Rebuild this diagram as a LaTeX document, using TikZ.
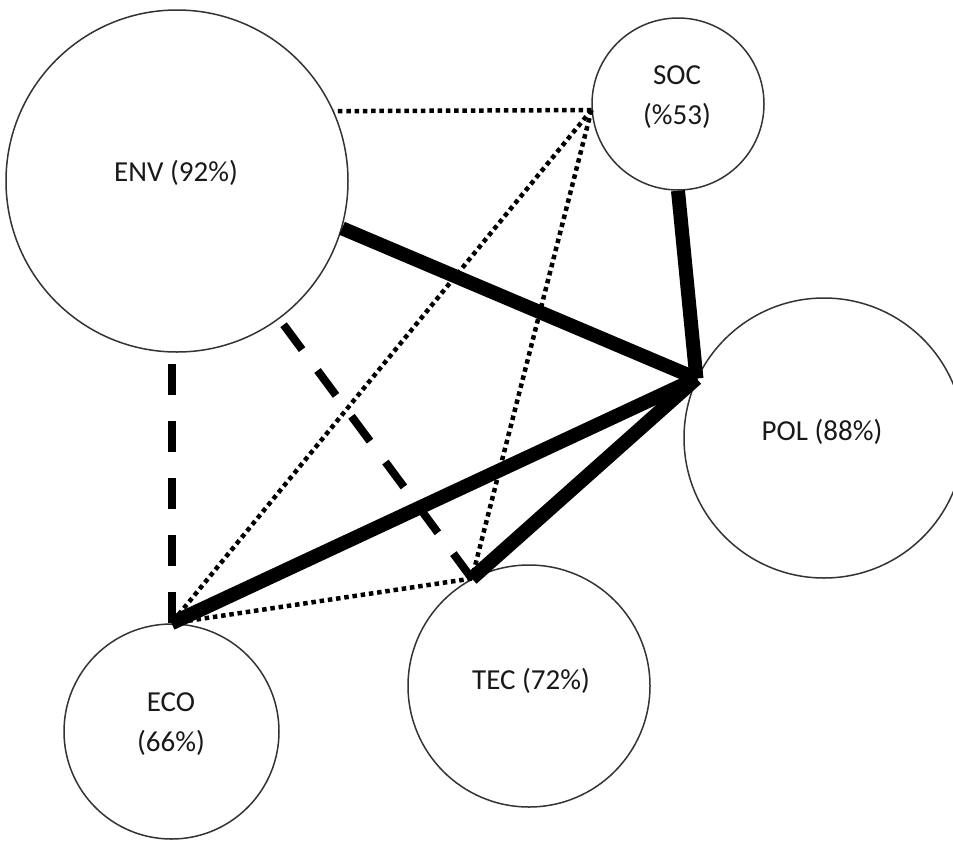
\documentclass[tikz,border=0pt]{standalone}
\usepackage{fontspec}
\setmainfont{Carlito}
\begin{document}
\begin{tikzpicture}[x=1pt,y=-1pt,
  topic/.style={circle,draw=black!80,line width=1.5pt,inner sep=0pt},
  lbl/.style={font=\fontsize{29}{39.5}\selectfont,text=black!90,align=center,inner sep=0pt},
  strong/.style={line width=14pt},
  medium/.style={line width=8pt,dash pattern=on 31pt off 26pt},
  weak/.style={line width=4.5pt,dash pattern=on 4.5pt off 3.8pt}]
\useasboundingbox (0,0) rectangle (953,841);

% dimension circles
\node[topic,minimum size=342pt] (ENV) at (177,181) {};
\node[topic,minimum size=172pt] (SOC) at (678,104) {};
\node[topic,minimum size=280pt] (POL) at (824,438) {};
\node[topic,minimum size=215pt] (ECO) at (171.5,731.5) {};
\node[topic,minimum size=242pt] (TEC) at (529,686) {};

% labels
\node[lbl] (ENVt) at (176,173) {ENV (92\%)};
\node[lbl] (SOCt) at (677,97) {SOC\\(\%53)};
\node[lbl] (POLt) at (822,432) {POL (88\%)};
\node[lbl] (ECOt) at (171,724) {ECO\\(66\%)};
\node[lbl] (TECt) at (531,681) {TEC (72\%)};

% meeting point on the POL circle
\coordinate (hub) at (POL.155.8);

% strong links
\draw[strong] (ENV.-16) -- (hub);
\draw[strong] (SOC.south) -- (hub);
\draw[strong] (ECO.north) -- (hub);
\draw[strong] (TEC.118) -- (hub);

% medium links
\draw[medium] (ECO.north) -- (ECO.north |- ENV.south);
\draw[medium] (TEC.118) -- (ENV);

% weak links
\draw[weak] (SOC.184) -- (ENV.24.5);
\draw[weak] (SOC.184) -- (ECO.north);
\draw[weak] (SOC.184) -- (TEC.118);
\draw[weak] (TEC.118) -- (ECO.north);
\end{tikzpicture}
\end{document}
